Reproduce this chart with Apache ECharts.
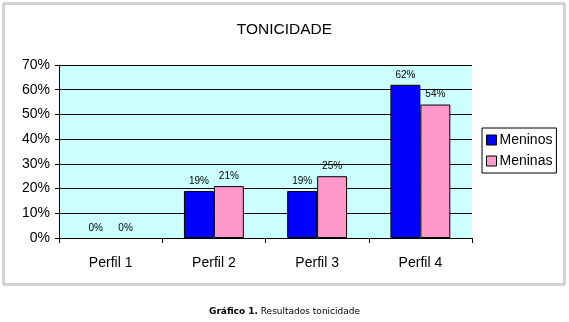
<!DOCTYPE html>
<html>
<head>
<meta charset="utf-8">
<script src="https://cdn.jsdelivr.net/npm/echarts@6/dist/echarts.min.js"></script>
<style>
html,body{margin:0;padding:0;background:#fff;}
#chart{width:569px;height:322px;}
</style>
</head>
<body>
<div id="chart"></div>
<script>
// Tonicidade por perfil (%)
const categories = ['Perfil 1', 'Perfil 2', 'Perfil 3', 'Perfil 4'];
const meninos = [0, 19, 19, 62];
const meninas = [0, 21, 25, 54];
const seriesNames = ['Meninos', 'Meninas'];
const chartTitle = 'TONICIDADE';

const chart = echarts.init(document.getElementById('chart'), null, {renderer: 'canvas'});
const font = '"Liberation Sans", Arial, sans-serif';

const barLabel = {
  show: true,
  position: 'top',
  distance: 5,
  formatter: '{c}%',
  color: '#000',
  fontSize: 10,
  fontFamily: font
};

// zero-height bars get no outline
const toBars = vals => vals.map(v => v === 0 ? {value: v, itemStyle: {borderWidth: 0}} : v);

chart.setOption({
  backgroundColor: '#fff',
  animation: false,
  title: {
    text: chartTitle,
    left: 'center',
    top: 17,
    textStyle: {fontSize: 15.5, fontWeight: 'normal', color: '#000', fontFamily: font}
  },
  legend: {
    orient: 'vertical',
    left: 482,
    top: 128,
    icon: 'rect',
    itemWidth: 10,
    itemHeight: 10,
    itemGap: 7,
    padding: [5, 4, 5, 4],
    borderColor: '#000',
    borderWidth: 1,
    textStyle: {fontSize: 14, color: '#000', fontFamily: font, padding: [0, 0, 0, -2]},
    data: seriesNames.map(n => ({name: n, itemStyle: {borderColor: '#000', borderWidth: 1}}))
  },
  grid: {left: 59, top: 65, width: 413, height: 173, containLabel: false,
    show: true, backgroundColor: '#ccffff', borderWidth: 0},
  xAxis: {
    type: 'category',
    data: categories,
    axisLine: {lineStyle: {color: '#000', width: 1}},
    axisTick: {show: true, alignWithLabel: false, length: 5, lineStyle: {color: '#000'}},
    axisLabel: {fontSize: 14, color: '#000', fontFamily: font, margin: 18}
  },
  yAxis: {
    type: 'value',
    min: 0,
    max: 70,
    interval: 10,
    axisLine: {show: true, lineStyle: {color: '#000', width: 1}},
    axisTick: {show: true, length: 4, lineStyle: {color: '#000'}},
    axisLabel: {formatter: '{value}%', fontSize: 14, color: '#000', fontFamily: font, margin: 9},
    splitLine: {show: true, lineStyle: {color: '#000', width: 1}}
  },
  series: [
    {
      name: seriesNames[0], type: 'bar', data: toBars(meninos),
      barGap: '0%', barCategoryGap: '42%',
      itemStyle: {color: '#0000ff', borderColor: '#000', borderWidth: 1},
      label: barLabel
    },
    {
      name: seriesNames[1], type: 'bar', data: toBars(meninas),
      itemStyle: {color: '#ff99cc', borderColor: '#000', borderWidth: 1},
      label: barLabel
    }
  ],
  graphic: [
    {
      type: 'rect', silent: true, z: -1,
      shape: {x: 3.5, y: 3.5, width: 561, height: 281},
      style: {fill: null, stroke: '#a8a8a8', lineWidth: 3, lineDash: [1, 1]}
    },
    {
      type: 'text', left: 'center', top: 307,
      style: {
        text: '{b|Gráfico 1.} Resultados tonicidade',
        rich: {b: {fontWeight: 'bold', fontSize: 9, fontFamily: '"DejaVu Sans", sans-serif'}},
        fontSize: 9, fontFamily: '"DejaVu Sans", sans-serif', fill: '#000'
      }
    }
  ]
});
</script>
</body>
</html>
